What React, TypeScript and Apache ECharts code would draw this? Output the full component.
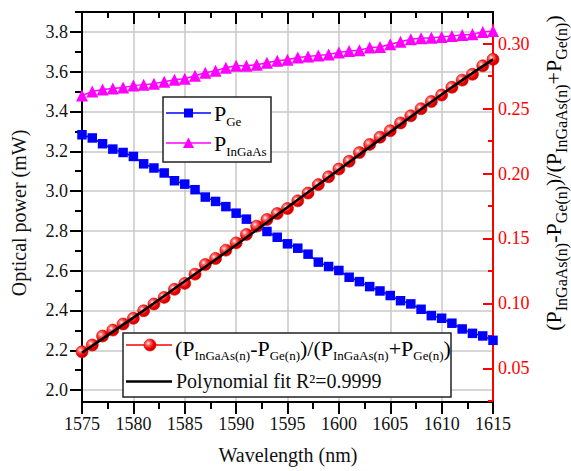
import React, { useEffect, useRef } from 'react';
import * as echarts from 'echarts';

const wavelengths = [
  1575, 1576, 1577, 1578, 1579, 1580, 1581, 1582, 1583, 1584, 1585, 1586, 1587, 1588,
  1589, 1590, 1591, 1592, 1593, 1594, 1595, 1596, 1597, 1598, 1599, 1600, 1601, 1602,
  1603, 1604, 1605, 1606, 1607, 1608, 1609, 1610, 1611, 1612, 1613, 1614, 1615,
];
const pGe = [
  3.283, 3.267, 3.238, 3.211, 3.194, 3.174, 3.137, 3.116, 3.091, 3.052, 3.035, 3.007, 2.970, 2.948,
  2.922, 2.889, 2.859, 2.822, 2.797, 2.768, 2.735, 2.713, 2.683, 2.643, 2.621, 2.601, 2.567, 2.545,
  2.520, 2.498, 2.475, 2.449, 2.433, 2.406, 2.374, 2.361, 2.336, 2.307, 2.285, 2.272, 2.250,
];
const pInGaAs = [
  3.480, 3.500, 3.510, 3.515, 3.520, 3.530, 3.535, 3.540, 3.550, 3.560, 3.565, 3.580, 3.595, 3.605,
  3.620, 3.630, 3.630, 3.635, 3.645, 3.655, 3.660, 3.671, 3.676, 3.682, 3.687, 3.696, 3.704, 3.708,
  3.721, 3.724, 3.738, 3.751, 3.763, 3.768, 3.771, 3.774, 3.780, 3.785, 3.788, 3.800, 3.805,
];
const ratio = [
  0.0627, 0.0679, 0.0748, 0.0794, 0.0841, 0.0885, 0.0943, 0.0995, 0.1046, 0.1108, 0.1154, 0.1225,
  0.1300, 0.1346, 0.1410, 0.1466, 0.1531, 0.1595, 0.1646, 0.1692, 0.1731, 0.1790, 0.1850, 0.1915,
  0.1975, 0.2035, 0.2095, 0.2162, 0.2225, 0.2280, 0.2330, 0.2390, 0.2445, 0.2500, 0.2555, 0.2605,
  0.2665, 0.2720, 0.2765, 0.2830, 0.2880,
];
const fitWavelengths = [1575, 1580, 1585, 1590, 1595, 1600, 1605, 1610, 1615];
const fitRatio = [0.062, 0.089, 0.117, 0.145, 0.174, 0.203, 0.232, 0.261, 0.288];

const leftMajorTicks = [2.0, 2.2, 2.4, 2.6, 2.8, 3.0, 3.2, 3.4, 3.6, 3.8];
const leftMinorTicks = [2.1, 2.3, 2.5, 2.7, 2.9, 3.1, 3.3, 3.5, 3.7, 3.9];
const rightMajorTicks = [0.05, 0.1, 0.15, 0.2, 0.25, 0.3];
const rightMinorTicks = [0.025, 0.075, 0.125, 0.175, 0.225, 0.275];

const FONT = "'Liberation Serif', 'Times New Roman', serif";
const BLUE = '#0000ff';
const MAGENTA = '#ff00ff';
const RED = '#ff0000';
const GRID = '#c8c8c8';
const TEXT = '#111111';

const sphere = () =>
  new echarts.graphic.RadialGradient(0.35, 0.35, 0.65, [
    { offset: 0, color: '#ffffff' },
    { offset: 0.25, color: '#ff7070' },
    { offset: 0.7, color: '#ee0000' },
    { offset: 1, color: '#cc0000' },
  ]);

const subRich = (color: string, main: number, sub: number, pad: number) => ({
  m: { fontSize: main, fontFamily: FONT, color, verticalAlign: 'bottom', padding: [0, 0, pad, 0] },
  s: { fontSize: sub, fontFamily: FONT, color, verticalAlign: 'bottom' },
});

export default function App() {
  const ref = useRef<HTMLDivElement>(null);
  useEffect(() => {
    if (!ref.current) return;
    const chart = echarts.init(ref.current, null, { renderer: 'svg' });
    const axisLineBlack = { show: true, onZero: false, lineStyle: { color: '#000', width: 2 } };
    const option: any = {
      animation: false,
      backgroundColor: '#ffffff',
      grid: { left: 82, right: 78, top: 12, bottom: 69, containLabel: false },
      xAxis: [
        {
          type: 'value',
          position: 'bottom',
          min: 1575,
          max: 1615,
          interval: 5,
          axisLine: axisLineBlack,
          axisTick: { show: true, length: 12, lineStyle: { color: '#000', width: 2 } },
          minorTick: { show: true, splitNumber: 2, length: 7, lineStyle: { color: '#000', width: 2 } },
          axisLabel: {
            show: true,
            formatter: (v: number) => String(v),
            color: TEXT,
            fontSize: 18,
            fontFamily: FONT,
            margin: 13,
          },
          splitLine: { show: true, lineStyle: { color: GRID, width: 1.5 } },
        },
        {
          type: 'value',
          position: 'top',
          min: 1575,
          max: 1615,
          interval: 5,
          axisLine: axisLineBlack,
          axisTick: { show: true, inside: true, length: 12, lineStyle: { color: '#000', width: 2 } },
          minorTick: { show: true, splitNumber: 2, length: 6, lineStyle: { color: '#000', width: 2 } },
          axisLabel: { show: false },
          splitLine: { show: false },
        },
      ],
      yAxis: [
        {
          type: 'value',
          position: 'left',
          min: 1.94,
          max: 3.9,
          axisLine: { show: true, lineStyle: { color: '#000', width: 2 } },
          axisTick: { show: true, customValues: leftMajorTicks, length: 12, lineStyle: { color: '#000', width: 2 } },
          axisLabel: {
            show: true,
            customValues: leftMajorTicks,
            formatter: (v: number) => v.toFixed(1),
            color: TEXT,
            fontSize: 18,
            fontFamily: FONT,
            margin: 14,
          },
          splitLine: { show: true, lineStyle: { color: GRID, width: 1.5 } },
        },
        {
          type: 'value',
          position: 'left',
          min: 1.94,
          max: 3.9,
          axisLine: { show: false },
          axisTick: { show: true, customValues: leftMinorTicks, length: 7, lineStyle: { color: '#000', width: 2 } },
          axisLabel: { show: false },
          splitLine: { show: false },
        },
        {
          type: 'value',
          position: 'right',
          min: 0.024,
          max: 0.3245,
          axisLine: { show: true, lineStyle: { color: RED, width: 2 } },
          axisTick: { show: true, inside: true, customValues: rightMajorTicks, length: 10, lineStyle: { color: RED, width: 2 } },
          axisLabel: {
            show: true,
            customValues: rightMajorTicks,
            formatter: (v: number) => v.toFixed(2),
            color: RED,
            fontSize: 18,
            fontFamily: FONT,
            margin: 5,
          },
          splitLine: { show: false },
        },
        {
          type: 'value',
          position: 'right',
          min: 0.024,
          max: 0.3245,
          axisLine: { show: false },
          axisTick: { show: true, inside: true, customValues: rightMinorTicks, length: 5, lineStyle: { color: RED, width: 2 } },
          axisLabel: { show: false },
          splitLine: { show: false },
        },
      ],
      series: [
        {
          name: 'PGe',
          type: 'line',
          xAxisIndex: 0,
          yAxisIndex: 0,
          data: wavelengths.map((w, i) => [w, pGe[i]]),
          symbol: 'rect',
          symbolSize: 9.5,
          lineStyle: { color: BLUE, width: 1.5 },
          itemStyle: { color: BLUE },
          z: 2,
        },
        {
          name: 'PInGaAs',
          type: 'line',
          xAxisIndex: 0,
          yAxisIndex: 0,
          data: wavelengths.map((w, i) => [w, pInGaAs[i]]),
          symbol: 'triangle',
          symbolSize: 12,
          lineStyle: { color: MAGENTA, width: 1.5 },
          itemStyle: { color: MAGENTA },
          z: 2,
        },
        {
          name: 'ratio',
          type: 'line',
          xAxisIndex: 0,
          yAxisIndex: 2,
          data: wavelengths.map((w, i) => [w, ratio[i]]),
          symbol: 'circle',
          symbolSize: 12,
          lineStyle: { color: RED, width: 1.5 },
          itemStyle: { color: sphere(), borderColor: '#e00000', borderWidth: 0.6 },
          z: 3,
        },
        {
          name: 'fit',
          type: 'line',
          xAxisIndex: 0,
          yAxisIndex: 2,
          data: fitWavelengths.map((w, i) => [w, fitRatio[i]]),
          smooth: true,
          symbol: 'none',
          lineStyle: { color: '#000', width: 2.5 },
          z: 4,
        },
      ],
      graphic: [
        {
          type: 'text',
          x: 19,
          y: 213,
          rotation: Math.PI / 2,
          style: {
            text: 'Optical power (mW)',
            fill: TEXT,
            fontSize: 20,
            fontFamily: FONT,
            align: 'center',
            verticalAlign: 'middle',
          },
        },
        {
          type: 'text',
          x: 288,
          y: 455,
          style: {
            text: 'Wavelength (nm)',
            fill: TEXT,
            fontSize: 20,
            fontFamily: FONT,
            align: 'center',
            verticalAlign: 'middle',
          },
        },
        {
          type: 'text',
          x: 555.5,
          y: 173,
          rotation: Math.PI / 2,
          style: {
            text: '{m|(P}{s|InGaAs(n)}{m|-P}{s|Ge(n)}{m|)/(P}{s|InGaAs(n)}{m|+P}{s|Ge(n)}{m|)}',
            align: 'center',
            verticalAlign: 'middle',
            rich: subRich(RED, 22, 16, 5),
          },
        },
        {
          type: 'rect',
          shape: { x: 163, y: 97, width: 108, height: 65 },
          style: { fill: '#ffffff', stroke: '#222', lineWidth: 1.5 },
          z: 10,
        },
        {
          type: 'line',
          shape: { x1: 166, y1: 113, x2: 211, y2: 113 },
          style: { stroke: BLUE, lineWidth: 1.5 },
          z: 11,
        },
        {
          type: 'rect',
          shape: { x: 184, y: 108.5, width: 9, height: 9 },
          style: { fill: BLUE },
          z: 11,
        },
        {
          type: 'text',
          x: 214,
          y: 115,
          z: 11,
          style: {
            text: '{m|P}{s|Ge}',
            align: 'left',
            verticalAlign: 'middle',
            rich: subRich(BLUE, 22, 13, 3),
          },
        },
        {
          type: 'line',
          shape: { x1: 166, y1: 143, x2: 211, y2: 143 },
          style: { stroke: MAGENTA, lineWidth: 1.5 },
          z: 11,
        },
        {
          type: 'polygon',
          shape: { points: [[188.5, 137.5], [194, 148], [183, 148]] },
          style: { fill: MAGENTA },
          z: 11,
        },
        {
          type: 'text',
          x: 214,
          y: 145,
          z: 11,
          style: {
            text: '{m|P}{s|InGaAs}',
            align: 'left',
            verticalAlign: 'middle',
            rich: subRich(MAGENTA, 22, 13, 3),
          },
        },
        {
          type: 'rect',
          shape: { x: 123, y: 333, width: 328, height: 64 },
          style: { fill: '#ffffff', stroke: '#222', lineWidth: 1.5 },
          z: 10,
        },
        {
          type: 'line',
          shape: { x1: 126, y1: 345, x2: 172, y2: 345 },
          style: { stroke: RED, lineWidth: 1.5 },
          z: 11,
        },
        {
          type: 'circle',
          shape: { cx: 150, cy: 345, r: 6 },
          style: { fill: sphere(), stroke: '#e00000', lineWidth: 0.6 },
          z: 11,
        },
        {
          type: 'text',
          x: 175,
          y: 349.5,
          z: 11,
          style: {
            text: '{m|(P}{s|InGaAs(n)}{m|-P}{s|Ge(n)}{m|)/(P}{s|InGaAs(n)}{m|+P}{s|Ge(n)}{m|)}',
            align: 'left',
            verticalAlign: 'middle',
            rich: subRich(RED, 22, 13, 3),
          },
        },
        {
          type: 'line',
          shape: { x1: 126, y1: 381.5, x2: 172, y2: 381.5 },
          style: { stroke: '#000', lineWidth: 2.5 },
          z: 11,
        },
        {
          type: 'text',
          x: 176,
          y: 380.5,
          z: 11,
          style: {
            text: 'Polynomial fit R²=0.9999',
            fill: TEXT,
            fontSize: 20,
            fontFamily: FONT,
            align: 'left',
            verticalAlign: 'middle',
          },
        },
      ],
    };
    chart.setOption(option);
    return () => chart.dispose();
  }, []);
  return (
    <div
      ref={ref}
      style={{ position: 'fixed', left: 0, top: 0, width: 571, height: 471, background: '#fff' }}
    />
  );
}
